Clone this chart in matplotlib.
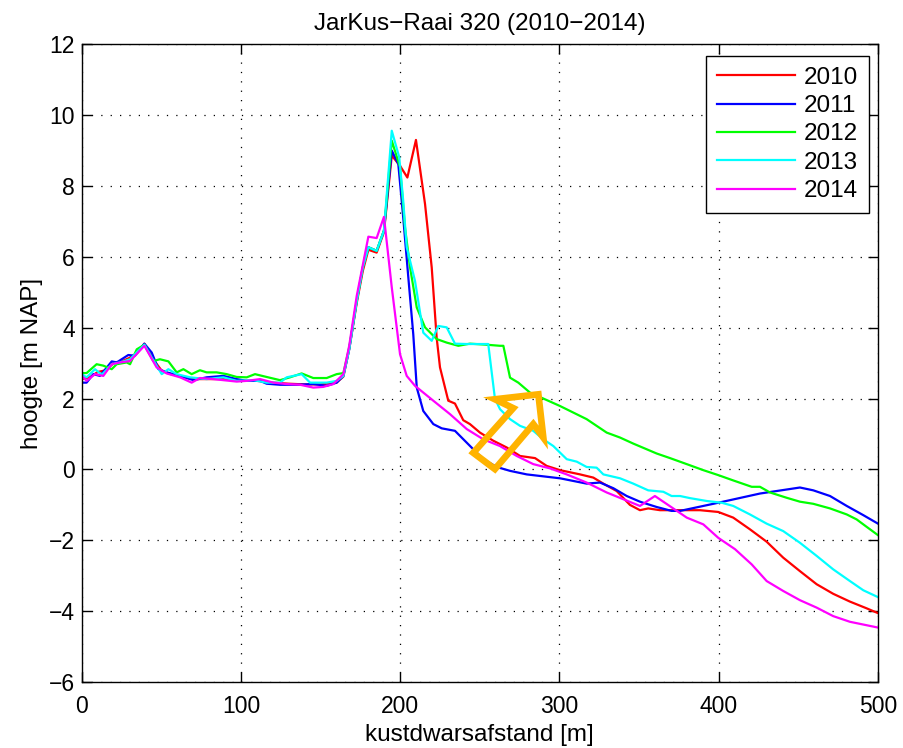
import matplotlib
matplotlib.use("Agg")
import matplotlib.pyplot as plt
from matplotlib.patches import Polygon

plt.rcParams['font.family'] = ['Liberation Sans', 'DejaVu Sans']

# ---------------- data ----------------
years = ['2010', '2011', '2012', '2013', '2014']
colors = ['#ff0000', '#0000ff', '#00ff00', '#00ffff', '#ff00ff']

x2010 = [0, 5, 10, 15, 20, 25, 30, 35, 39.3, 45, 50, 55, 60, 70, 80, 90, 100, 110, 120, 130, 140, 150, 160, 164.3,
         168, 172.7, 176.5, 180, 185.2, 189.8, 194.7, 199.9, 204.5, 209.9, 215.6, 219.8, 222.9, 225, 230.2, 234.4,
         239.6, 243.8, 250.1, 258.5, 266.9, 275.3, 284.7, 292, 300.4, 313, 321.3, 327.6, 336, 344.3, 350.6, 355.8,
         363.2, 388.3, 399.8, 409.2, 419.7, 430.2, 440.6, 451.1, 461.6, 472, 482.5, 493, 500.9]
y2010 = [2.55, 2.6, 2.75, 2.8, 3.0, 3.05, 3.15, 3.3, 3.55, 3.1, 2.8, 2.7, 2.65, 2.55, 2.55, 2.55, 2.5, 2.5, 2.45, 2.42,
         2.4, 2.4, 2.45, 2.62,
         3.4, 4.7, 5.6, 6.2, 6.12, 6.7, 8.86, 8.57, 8.24, 9.30, 7.49, 5.70, 3.72, 2.88, 1.94, 1.86,
         1.39, 1.28, 1.04, 0.81, 0.62, 0.38, 0.32, 0.10, -0.02, -0.14, -0.23, -0.40, -0.61, -1.00, -1.15, -1.10,
         -1.15, -1.15, -1.20, -1.36, -1.69, -2.04, -2.49, -2.87, -3.24, -3.51, -3.73, -3.92, -4.07]

x2011 = [0, 3, 7.2, 11.4, 18.8, 21.9, 29.2, 33.4, 39.3, 43.9, 48.1, 53.3, 61.7, 70.1, 78.4, 88.9, 97.3, 103.6, 112,
         116.1, 124.5, 135, 145.4, 153.8, 160.1, 164.3,
         168, 172.7, 176.5, 180, 185.2, 189.8, 194.7, 198.8, 201.9, 205.1, 208.2, 210.4, 214.5, 220.8, 226.1, 234.4,
         238.6, 245.9, 252.2, 260.6, 269, 279.5, 300.4, 317.1, 325.5, 333.9, 342.3, 350.6, 361.1, 370.5, 375.8,
         399.8, 426, 451.1, 459.5, 470, 480.5, 490.9, 500.9]
y2011 = [2.45, 2.45, 2.69, 2.64, 3.05, 3.02, 3.23, 3.21, 3.55, 3.30, 2.83, 2.74, 2.64, 2.52, 2.60, 2.64, 2.55, 2.50, 2.50,
         2.42, 2.39, 2.39, 2.41, 2.36, 2.45, 2.64,
         3.4, 4.76, 5.7, 6.27, 6.17, 6.74, 9.00, 8.62, 7.11, 5.42, 3.82, 2.31, 1.65, 1.28, 1.16, 1.09,
         0.90, 0.57, 0.29, 0.07, -0.04, -0.14, -0.25, -0.40, -0.37, -0.53, -0.75, -0.91, -1.06, -1.17, -1.17,
         -0.94, -0.68, -0.51, -0.59, -0.75, -1.03, -1.29, -1.55]

x2012 = [0, 3, 9.3, 13.5, 18.8, 21.9, 28.2, 30.3, 34.5, 39.3, 44.9, 49.1, 54.4, 59.6, 63.8, 69, 74.2, 78.4, 84.7, 91,
         97.3, 103.6, 108.8, 116.1, 124.5, 130.8, 138.1, 145.4, 153.8, 160.1, 164.3,
         168, 172.7, 176.5, 180, 185.2, 189.8, 194.7, 199.9, 203, 206.2, 210.4, 215.6, 222.9, 229.2, 236.5, 243.8,
         254.3, 262.7, 264.8, 269, 274.2, 281.5, 300.4, 317.1, 329.7, 338.1, 346.4, 361.1, 369.5, 380, 390.4,
         399.8, 409.2, 420.8, 426, 432.3, 442.8, 451.1, 459.5, 470, 480.5, 486.7, 493, 500.9]
y2012 = [2.72, 2.72, 2.97, 2.93, 2.83, 2.97, 3.02, 2.97, 3.39, 3.52, 3.06, 3.11, 3.05, 2.74, 2.83, 2.69, 2.80, 2.74, 2.74,
         2.69, 2.61, 2.60, 2.69, 2.61, 2.52, 2.60, 2.71, 2.58, 2.58, 2.69, 2.72,
         3.45, 4.76, 5.7, 6.27, 6.17, 6.74, 9.28, 8.53, 6.83, 5.70, 4.57, 4.01, 3.68, 3.58, 3.49, 3.55,
         3.52, 3.49, 3.49, 2.59, 2.45, 2.17, 1.79, 1.42, 1.04, 0.90, 0.73, 0.45, 0.32, 0.15, -0.02,
         -0.16, -0.31, -0.49, -0.49, -0.65, -0.80, -0.91, -0.97, -1.10, -1.27, -1.41, -1.62, -1.88]

x2013 = [0, 3, 8.3, 12.5, 18.8, 24, 30.3, 39.3, 43.9, 50.2, 54.4, 59.6, 68, 78.4, 88.9, 97.3, 107.8, 116.1, 124.5,
         128.7, 138.1, 143.4, 153.8, 160.1, 164.3,
         168, 172.7, 176.5, 180, 185.2, 189.8, 194.7, 199.4, 201.9, 204.1, 209.3, 214.5, 219.8, 223.9, 229.2, 234.4,
         241.8, 255.3, 259.5, 262.7, 269, 275.3, 283.6, 289.9, 296.2, 304.6, 310.9, 317.1, 323.4, 327.6, 338.1,
         346.4, 355.8, 365.3, 370.5, 375.8, 382.1, 392.5, 402, 409.2, 419.7, 430.2, 440.6, 451.1, 461.6, 472,
         482.5, 490.9, 500.9]
y2013 = [2.69, 2.60, 2.83, 2.67, 2.97, 3.02, 3.11, 3.52, 3.16, 2.69, 2.83, 2.69, 2.60, 2.55, 2.60, 2.50, 2.52, 2.45, 2.45,
         2.60, 2.69, 2.45, 2.45, 2.50, 2.64,
         3.4, 4.76, 5.7, 6.27, 6.17, 6.74, 9.56, 8.81, 7.58, 6.27, 5.32, 3.86, 3.63, 4.05, 4.01, 3.55,
         3.54, 3.54, 2.00, 1.70, 1.42, 1.23, 1.09, 0.85, 0.66, 0.29, 0.22, 0.07, 0.05, -0.14, -0.25,
         -0.40, -0.59, -0.63, -0.75, -0.75, -0.81, -0.89, -0.94, -1.03, -1.27, -1.53, -1.74, -2.07, -2.44, -2.82,
         -3.15, -3.41, -3.62]

x2014 = [0, 3, 8.3, 13.5, 18.8, 24, 30.3, 39.3, 47, 53.3, 61.7, 69, 74.2, 82.6, 88.9, 97.3, 103.6, 112, 120.3, 128.7,
         137.1, 145.4, 151.7, 158, 164.3,
         168, 172.7, 180, 185.2, 189.8, 194.7, 199.9, 204.1, 209.3, 220.8, 231.3, 241.8, 252.2, 262.7, 273.2, 283.6,
         294.1, 304.6, 317.1, 329.7, 342.3, 350.6, 360, 371.5, 380, 390.4, 399.8, 410.3, 420.8, 430.2, 440.6,
         451.1, 461.6, 472, 482.5, 500.9]
y2014 = [2.64, 2.50, 2.69, 2.64, 2.97, 3.02, 3.06, 3.49, 2.88, 2.71, 2.60, 2.45, 2.58, 2.55, 2.52, 2.48, 2.50, 2.55, 2.45,
         2.41, 2.39, 2.31, 2.33, 2.41, 2.69,
         3.5, 4.9, 6.57, 6.53, 7.13, 5.14, 3.25, 2.64, 2.36, 1.94, 1.56, 1.14, 0.85, 0.66, 0.38, 0.15,
         0.03, -0.14, -0.37, -0.65, -0.88, -1.03, -0.75, -1.10, -1.36, -1.55, -1.93, -2.25, -2.68, -3.15, -3.43,
         -3.69, -3.90, -4.14, -4.30, -4.47]

series_x = [x2010, x2011, x2012, x2013, x2014]
series_y = [y2010, y2011, y2012, y2013, y2014]

# hollow orange arrow annotation (data coordinates)
arrow_x = [259.5, 286.8, 289.9, 283.6, 259.5, 245.9, 271.0]
arrow_y = [1.98, 2.12, 0.90, 1.28, 0.01, 0.47, 1.73]

xticks = [0, 100, 200, 300, 400, 500]
yticks = [-6, -4, -2, 0, 2, 4, 6, 8, 10, 12]

title = 'JarKus\u2212Raai 320 (2010\u22122014)'
xlabel = 'kustdwarsafstand [m]'
ylabel = 'hoogte [m NAP]'

# ---------------- figure ----------------
FS_TICK = 16.5
FS = 17.5
fig = plt.figure(figsize=(9.04, 7.48), dpi=100)
ax = fig.add_axes([0.0905, 0.0882, 0.8805, 0.8526])

for xs, ys, c, lab in zip(series_x, series_y, colors, years):
    ax.plot(xs, ys, color=c, lw=1.6, label=lab, solid_joinstyle='round')

poly = Polygon(list(zip(arrow_x, arrow_y)), closed=True, fill=False,
               edgecolor='#ffb300', lw=4.8, joinstyle='miter', zorder=5)
ax.add_patch(poly)

ax.set_xlim(0, 500)
ax.set_ylim(-6, 12)
ax.set_xticks(xticks)
ax.set_yticks(yticks)
ax.set_xticklabels([str(v) for v in xticks])
ax.set_yticklabels([str(v).replace('-', '\u2212') for v in yticks])
ax.tick_params(direction='in', length=7, width=1.0, top=True, right=True,
               labelsize=FS_TICK, colors='black')
ax.tick_params(axis='x', pad=9)
ax.tick_params(axis='y', pad=5)
ax.grid(True, color='black', linestyle=(0, (1, 6.5)), lw=0.9)
for s in ax.spines.values():
    s.set_linewidth(1.0)
    s.set_color('black')

ax.set_title(title, fontsize=FS, pad=10)
ax.set_xlabel(xlabel, fontsize=FS, labelpad=5)
ax.set_ylabel(ylabel, fontsize=FS, labelpad=4)

leg = ax.legend(loc='upper right', bbox_to_anchor=(0.989, 0.982), borderaxespad=0,
                fontsize=FS, frameon=True, fancybox=False, framealpha=1, edgecolor='black',
                handlelength=3.2, handletextpad=0.37, labelspacing=0.26, borderpad=0.45)
leg.get_frame().set_linewidth(1.0)

fig.savefig('out.png', dpi=100)
